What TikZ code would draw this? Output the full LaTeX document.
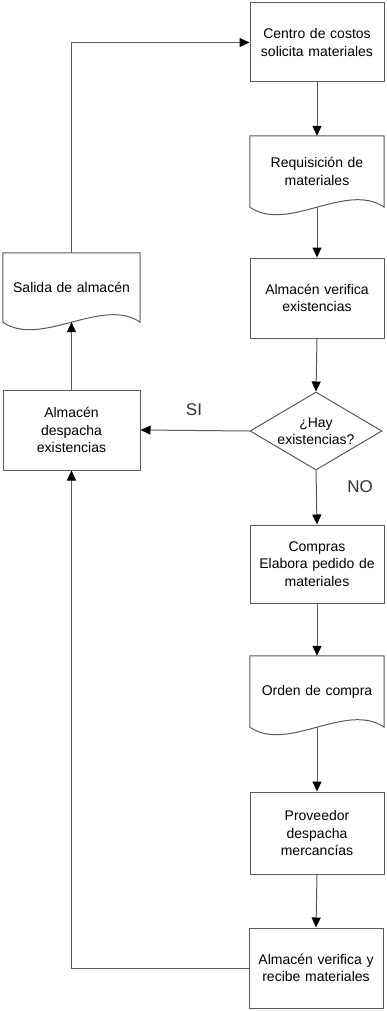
\documentclass[tikz,border=0pt]{standalone}
\usepackage{fontspec}
\setmainfont{Liberation Sans}
\usetikzlibrary{arrows.meta,shapes.geometric}
\definecolor{linec}{RGB}{90,90,90}
\begin{document}
\begin{tikzpicture}[x=1pt,y=-1pt,
  lbl/.style={font=\fontsize{14}{17.5}\selectfont, align=center, text width=126pt, inner sep=0pt},
  box/.style={lbl, draw=linec, line width=1pt, minimum width=134pt, minimum height=79pt},
  doc/.style={lbl, draw=none, minimum width=134pt},
  outline/.style={draw=linec, line width=1pt},
  arr/.style={draw=linec, line width=1pt, -{Triangle[length=10pt,width=9pt,color=black]}},
  dec/.style={font=\fontsize{17}{20}\selectfont, text=black!80}
]
\fill[white] (0,0) rectangle (386,1011);
\useasboundingbox (0,0) rectangle (386,1011);

% right column
\node[box] (b1) at (317,42.5) {Centro de costos\\solicita materiales};
\node[doc, minimum height=71pt] (d1) at (317,171.5) {Requisición de\\materiales};
\node[box, minimum height=80pt] (b2) at (317,298) {Almacén verifica\\existencias};
\node[draw=linec, line width=1pt, shape=diamond, aspect=1.69, inner sep=0pt,
      minimum width=132pt, minimum height=78pt, align=center,
      font=\fontsize{14}{17.5}\selectfont] (dia) at (316,431) {¿Hay\\existencias?};
\node[box, minimum height=78pt] (b4) at (317,564) {Compras\\Elabora pedido de\\materiales};
\node[doc, minimum height=71pt] (d3) at (317,691.5) {Orden de compra};
\node[box, minimum height=82pt] (b5) at (317,833) {Proveedor\\despacha\\mercancías};
\node[box, minimum height=80pt] (b6) at (316,968) {Almacén verifica y\\recibe materiales};

% left column
\node[box, minimum width=137pt, minimum height=80pt] (b3) at (71.5,430) {Almacén\\despacha\\existencias};
\node[doc, minimum width=137pt, minimum height=69pt] (d2) at (71.5,287.5) {Salida de almacén};

% document outlines
\foreach \d in {d1,d2,d3}{
  \draw[outline] (\d.south west) -- (\d.north west) -- (\d.north east) -- (\d.south east)
    .. controls +(-38,-26) and +(38,26) .. (\d.south west);
}

% labels
\node[dec] (si) at (194,410) {SI};
\node[dec] (no) at (360,487) {NO};

% connectors
\draw[arr] (b1.south) -- (d1.north);
\draw[arr] (d1.south) -- (b2.north);
\draw[arr] (b2.south) -- (dia.north);
\draw[arr] (dia.west) -- (b3.east);
\draw[arr] (dia.south) -- (b4.north);
\draw[arr] (b4.south) -- (d3.north);
\draw[arr] (d3.south) -- (b5.north);
\draw[arr] (b5.south) -- (b6.north);
\draw[arr] (b6.west) -| (b3.south);
\draw[arr] (b3.north) -- (d2.south);
\draw[arr] (d2.north) |- (b1.west);
\end{tikzpicture}
\end{document}
